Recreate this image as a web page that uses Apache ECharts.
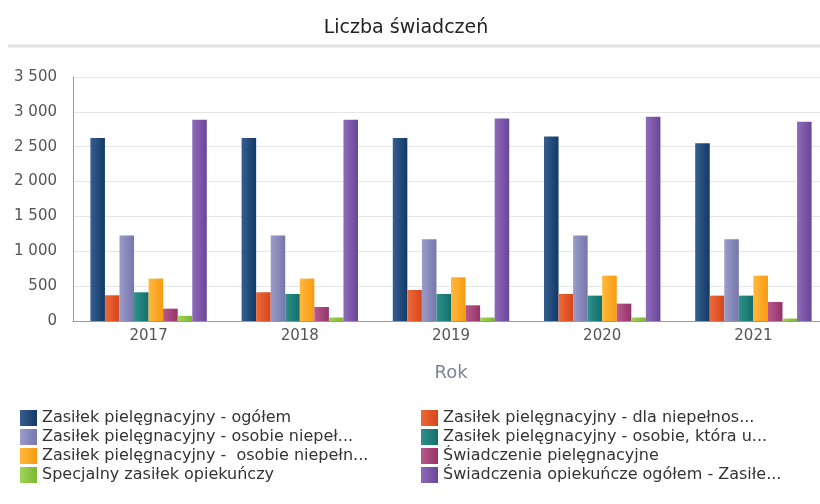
<!DOCTYPE html>
<html>
<head>
<meta charset="utf-8">
<script src="https://cdn.jsdelivr.net/npm/echarts@6/dist/echarts.min.js"></script>
<style>html,body{margin:0;padding:0;background:#fff;overflow:hidden;width:820px;height:504px}#c{width:830px;height:504px}</style>
</head>
<body>
<div id="c"></div>
<script>
const categories = ['2017', '2018', '2019', '2020', '2021'];
const seriesNames = [
  'Zasiłek pielęgnacyjny - ogółem',
  'Zasiłek pielęgnacyjny - dla niepełnos...',
  'Zasiłek pielęgnacyjny - osobie niepeł...',
  'Zasiłek pielęgnacyjny - osobie, która u...',
  'Zasiłek pielęgnacyjny -  osobie niepełn...',
  'Świadczenie pielęgnacyjne',
  'Specjalny zasiłek opiekuńczy',
  'Świadczenia opiekuńcze ogółem - Zasiłe...'
];
const s1 = [2624, 2624, 2624, 2647, 2551];
const s2 = [369, 412, 445, 388, 364];
const s3 = [1225, 1225, 1173, 1225, 1173];
const s4 = [412, 388, 388, 364, 364];
const s5 = [608, 608, 627, 651, 651];
const s6 = [177, 201, 225, 249, 273];
const s7 = [75, 50, 50, 50, 35];
const s8 = [2886, 2886, 2905, 2929, 2858];
const seriesValues = [s1, s2, s3, s4, s5, s6, s7, s8];
const yTicks = { min: 0, max: 3500, interval: 500 };

const colors = [
  ['#365f8f', '#123a68'],
  ['#ee6a3a', '#d6461a'],
  ['#9a9cc9', '#7577ad'],
  ['#2e918b', '#136e69'],
  ['#ffb93e', '#f79a10'],
  ['#b8588b', '#953368'],
  ['#a2d45a', '#7db632'],
  ['#8d6bb8', '#6a4699']
];
function grad(c) {
  return new echarts.graphic.LinearGradient(0, 0, 1, 0, [
    { offset: 0, color: c[0] }, { offset: 1, color: c[1] }
  ]);
}
const FONT = 'DejaVu Sans';
const chart = echarts.init(document.getElementById('c'), null, { renderer: 'canvas' });
const legendCommon = {
  orient: 'vertical',
  top: 410,
  padding: 0,
  itemWidth: 17,
  itemHeight: 16,
  itemGap: 3,
  icon: 'rect',
  textStyle: { fontFamily: FONT, fontSize: 16, color: '#333', lineHeight: 16 },
  selectedMode: false
};
chart.setOption({
  animation: false,
  title: {
    text: 'Liczba świadczeń',
    left: 401,
    top: 14,
    textAlign: 'center',
    textStyle: { fontFamily: FONT, fontSize: 19, fontWeight: 'normal', color: '#222' }
  },
  graphic: [{
    type: 'line',
    shape: { x1: 8, y1: 46, x2: 830, y2: 46 },
    style: { stroke: '#e2e2e2', lineWidth: 3 }
  }],
  legend: [
    Object.assign({ left: 20, data: [seriesNames[0], seriesNames[2], seriesNames[4], seriesNames[6]] }, legendCommon),
    Object.assign({ left: 421, data: [seriesNames[1], seriesNames[3], seriesNames[5], seriesNames[7]] }, legendCommon)
  ],
  grid: { left: 73, right: 1, top: 77, bottom: 183, containLabel: false },
  xAxis: {
    type: 'category',
    data: categories,
    name: 'Rok',
    nameLocation: 'middle',
    nameGap: 43,
    nameTextStyle: { fontFamily: FONT, fontSize: 18, color: '#7b8498' },
    axisLine: { lineStyle: { color: '#999' } },
    axisTick: { show: false },
    axisLabel: { fontFamily: FONT, fontSize: 15, color: '#555', margin: 8 }
  },
  yAxis: {
    type: 'value',
    min: yTicks.min, max: yTicks.max, interval: yTicks.interval,
    axisLine: { show: true, lineStyle: { color: '#999' } },
    axisTick: { show: false },
    splitLine: { lineStyle: { color: '#e6e6e6' } },
    axisLabel: {
      fontFamily: FONT, fontSize: 15, color: '#555', margin: 16,
      formatter: v => String(v).replace(/\B(?=(\d{3})+(?!\d))/g, ' ')
    }
  },
  series: seriesValues.map((vals, i) => ({
    name: seriesNames[i],
    type: 'bar',
    data: vals,
    barGap: '0%',
    barCategoryGap: '23%',
    itemStyle: { color: grad(colors[i]) }
  }))
});
</script>
</body>
</html>
